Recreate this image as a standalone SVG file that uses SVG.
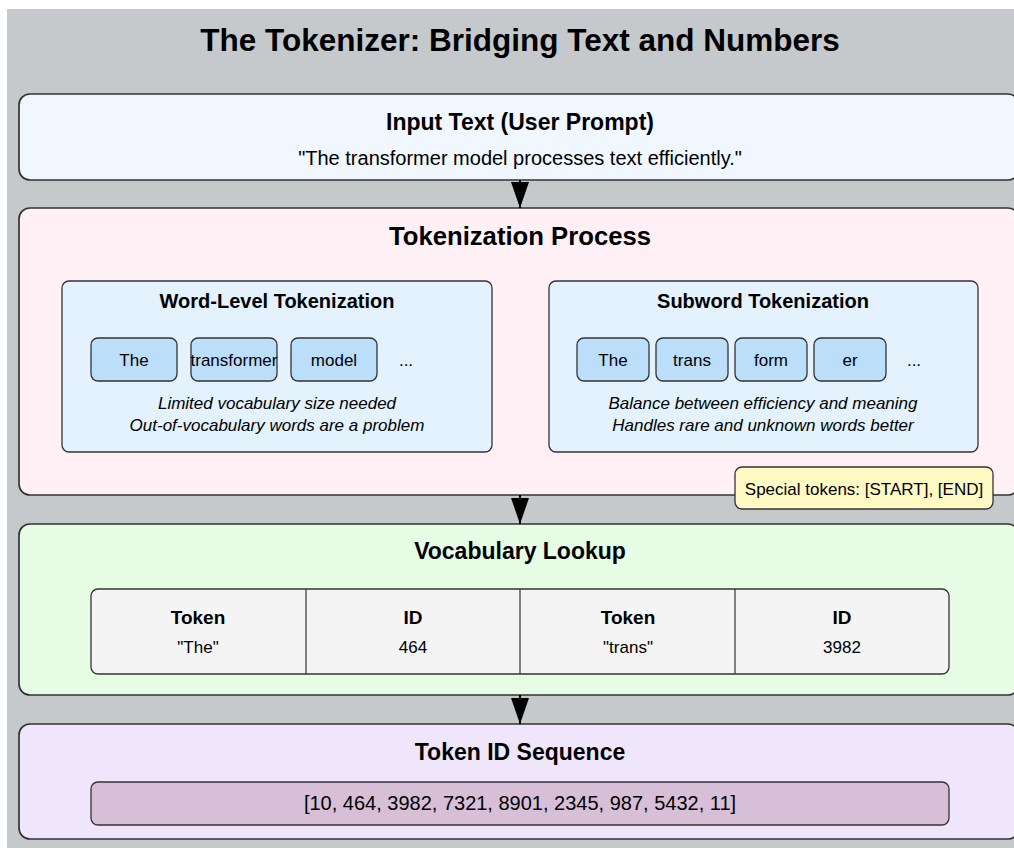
<svg xmlns="http://www.w3.org/2000/svg" width="1014" height="848" viewBox="0 0 1014 848">
  <defs>
    <marker id="arrowhead" viewBox="0 0 26 18" refX="26" refY="9" markerWidth="26" markerHeight="18" markerUnits="userSpaceOnUse" orient="auto">
      <path d="M0,0 L26,9 L0,18 Z" fill="#000"/>
    </marker>
    <style>
      text { font-family: "Liberation Sans", Arial, sans-serif; fill: #000; }
      .title { font-size: 31.5px; font-weight: bold; text-anchor: middle; }
      .stage { stroke: #333; stroke-width: 1.7; }
      .h-input { font-size: 23px; font-weight: bold; text-anchor: middle; }
      .h-big { font-size: 25.7px; font-weight: bold; text-anchor: middle; }
      .h-sec { font-size: 23px; font-weight: bold; text-anchor: middle; }
      .h-sub { font-size: 20px; font-weight: bold; text-anchor: middle; }
      .body { font-size: 17px; text-anchor: middle; }
      .big-body { font-size: 20px; text-anchor: middle; }
      .note { font-size: 17px; font-style: italic; text-anchor: middle; }
      .panel { fill: #e3f2fd; stroke: #333; stroke-width: 1.3; }
      .tok { fill: #bbdefb; stroke: #333; stroke-width: 1.3; }
      .th { font-size: 19px; font-weight: bold; text-anchor: middle; }
      .conn { stroke: #000; stroke-width: 2; fill: none; }
    </style>
  </defs>

  <!-- canvas -->
  <rect x="0" y="0" width="1014" height="848" fill="#ffffff"/>
  <rect x="7" y="9" width="1007" height="839" fill="#c6c9cc"/>

  <text class="title" x="520" y="51">The Tokenizer: Bridging Text and Numbers</text>

  <!-- stage 1: input -->
  <g id="input-text">
    <rect class="stage" x="19" y="94" width="1000" height="86" rx="11" fill="#f0f7ff"/>
    <text class="h-input" x="520" y="130">Input Text (User Prompt)</text>
    <text class="big-body" x="520" y="165">"The transformer model processes text efficiently."</text>
  </g>

  <!-- stage 2: tokenization -->
  <g id="tokenization">
    <rect class="stage" x="19" y="208" width="1000" height="287" rx="11" fill="#fff0f5"/>
    <text class="h-big" x="520" y="245">Tokenization Process</text>

    <g id="word-level">
      <rect class="panel" x="62" y="281" width="430" height="171" rx="7"/>
      <text class="h-sub" x="277" y="308">Word-Level Tokenization</text>
      <rect class="tok" x="91" y="338" width="86" height="43" rx="7"/>
      <text class="body" x="134" y="366">The</text>
      <rect class="tok" x="191" y="338" width="86" height="43" rx="7"/>
      <text class="body" x="234" y="366">transformer</text>
      <rect class="tok" x="291" y="338" width="86" height="43" rx="7"/>
      <text class="body" x="334" y="366">model</text>
      <text class="body" x="406" y="366" font-size="15">...</text>
      <text class="note" x="277" y="409">Limited vocabulary size needed</text>
      <text class="note" x="277" y="431">Out-of-vocabulary words are a problem</text>
    </g>

    <g id="subword">
      <rect class="panel" x="549" y="281" width="429" height="171" rx="7"/>
      <text class="h-sub" x="763" y="308">Subword Tokenization</text>
      <rect class="tok" x="577" y="338" width="72" height="43" rx="7"/>
      <text class="body" x="613" y="366">The</text>
      <rect class="tok" x="656" y="338" width="72" height="43" rx="7"/>
      <text class="body" x="692" y="366">trans</text>
      <rect class="tok" x="735" y="338" width="72" height="43" rx="7"/>
      <text class="body" x="771" y="366">form</text>
      <rect class="tok" x="814" y="338" width="72" height="43" rx="7"/>
      <text class="body" x="850" y="366">er</text>
      <text class="body" x="914" y="366" font-size="15">...</text>
      <text class="note" x="763" y="409">Balance between efficiency and meaning</text>
      <text class="note" x="763" y="431">Handles rare and unknown words better</text>
    </g>
  </g>

  <!-- stage 3: vocabulary lookup -->
  <g id="vocabulary">
    <rect class="stage" x="19" y="524" width="1000" height="171" rx="11" fill="#e6fce4"/>
    <text class="h-sec" x="520" y="559">Vocabulary Lookup</text>
    <rect x="91" y="589" width="858" height="85" rx="7" fill="#f4f4f4" stroke="#333" stroke-width="1.3"/>
    <line x1="306" y1="589" x2="306" y2="674" stroke="#333" stroke-width="1.2"/>
    <line x1="520" y1="589" x2="520" y2="674" stroke="#333" stroke-width="1.2"/>
    <line x1="735" y1="589" x2="735" y2="674" stroke="#333" stroke-width="1.2"/>
    <text class="th" x="198" y="624">Token</text>
    <text class="body" x="198" y="653">"The"</text>
    <text class="th" x="413" y="624">ID</text>
    <text class="body" x="413" y="653">464</text>
    <text class="th" x="628" y="624">Token</text>
    <text class="body" x="628" y="653">"trans"</text>
    <text class="th" x="842" y="624">ID</text>
    <text class="body" x="842" y="653">3982</text>
  </g>

  <!-- stage 4: id sequence -->
  <g id="id-sequence">
    <rect class="stage" x="19" y="724" width="1000" height="115" rx="11" fill="#efe6fc"/>
    <text class="h-sec" x="520" y="760">Token ID Sequence</text>
    <rect x="91" y="782" width="858" height="43" rx="7" fill="#d8bfd8" stroke="#333" stroke-width="1.3"/>
    <text class="big-body" x="520" y="810">[10, 464, 3982, 7321, 8901, 2345, 987, 5432, 11]</text>
  </g>

  <!-- connectors -->
  <g id="connectors">
    <line class="conn" x1="520" y1="180" x2="520" y2="208" marker-end="url(#arrowhead)"/>
    <line class="conn" x1="520" y1="495" x2="520" y2="524" marker-end="url(#arrowhead)"/>
    <line class="conn" x1="520" y1="695" x2="520" y2="724" marker-end="url(#arrowhead)"/>
  </g>

  <!-- callout over the tokenization border -->
  <g id="special-tokens">
    <rect x="735" y="467" width="258" height="42" rx="7" fill="#fff9c4" stroke="#333" stroke-width="1.3"/>
    <text class="body" x="864" y="495">Special tokens: [START], [END]</text>
  </g>
</svg>
